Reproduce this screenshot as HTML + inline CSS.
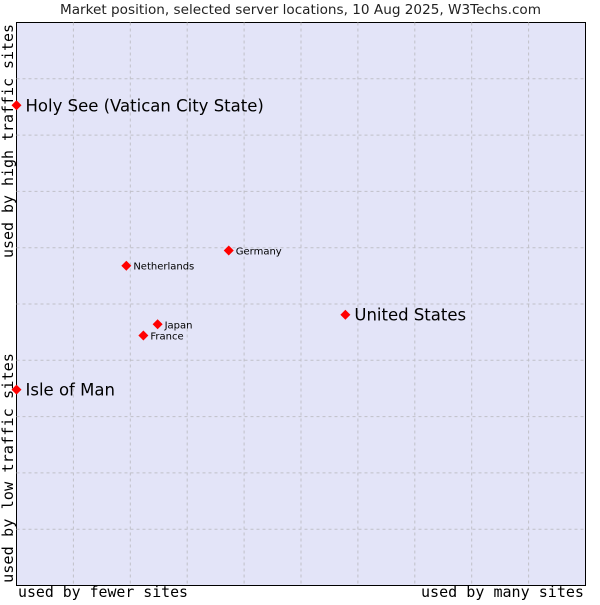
<!DOCTYPE html>
<html><head><meta charset="utf-8"><style>
body{margin:0;background:#fff}
svg text{font-family:"DejaVu Sans","Liberation Sans",sans-serif}
.mono{font-family:"DejaVu Sans Mono","Liberation Mono",monospace}
</style></head><body>
<svg id="chart" width="600" height="600" xmlns="http://www.w3.org/2000/svg">
<text x="60" y="14" textLength="481" lengthAdjust="spacingAndGlyphs" font-size="13" fill="#222">Market position, selected server locations, 10 Aug 2025, W3Techs.com</text>
<rect x="16.5" y="22.5" width="569" height="563" fill="#e3e4f8" stroke="#000"/>
<g id="grid"></g>
<g id="marks"></g>
<text class="mono" x="18" y="597" font-size="15" textLength="170" lengthAdjust="spacingAndGlyphs" fill="#000">used by fewer sites</text>
<text class="mono" x="421" y="597" font-size="15" textLength="163" lengthAdjust="spacingAndGlyphs" fill="#000">used by many sites</text>
<text class="mono" transform="translate(13,258) rotate(-90)" font-size="15" textLength="234" lengthAdjust="spacingAndGlyphs" fill="#000">used by high traffic sites</text>
<text class="mono" transform="translate(13,583) rotate(-90)" font-size="15" textLength="230" lengthAdjust="spacingAndGlyphs" fill="#000">used by low traffic sites</text>
</svg>
<script>
const names=["Holy See (Vatican City State)","Isle of Man","United States","Germany","Netherlands","Japan","France"];
const xVals=[0,0,5.78,3.73,1.93,2.48,2.23];
const yVals=[8.53,3.48,4.81,5.95,5.68,4.64,4.44];
const big=[true,true,true,false,false,false,false];
const NS="http://www.w3.org/2000/svg";
const X0=16.5,W=569,Y0=22.5,H=563;
const sx=v=>X0+v/10*W, sy=v=>Y0+H-v/10*H;
const grid=document.getElementById('grid'),marks=document.getElementById('marks');
for(let i=1;i<10;i++){
  const v=document.createElementNS(NS,'line');
  
  
  v.setAttribute('x1',sx(i));v.setAttribute('x2',sx(i));v.setAttribute('y1',Y0);v.setAttribute('y2',Y0+H);
  v.setAttribute('stroke','#c0c0c8');v.setAttribute('stroke-dasharray','3,3');grid.appendChild(v);
  const h=document.createElementNS(NS,'line');
  
  
  h.setAttribute('y1',sy(i));h.setAttribute('y2',sy(i));h.setAttribute('x1',X0);h.setAttribute('x2',X0+W);
  h.setAttribute('stroke','#c0c0c8');h.setAttribute('stroke-dasharray','3,3');grid.appendChild(h);
}
names.forEach((n,i)=>{
  const x=sx(xVals[i]),y=sy(yVals[i]);
  const p=document.createElementNS(NS,'polygon');
  
  
  p.setAttribute('points',`${x},${y-5} ${x+5},${y} ${x},${y+5} ${x-5},${y}`);
  p.setAttribute('fill','#f00');marks.appendChild(p);
  const t=document.createElementNS(NS,'text');
  
  
  t.setAttribute('x',x+(big[i]?9:7));t.setAttribute('y',y+(big[i]?6:4));
  t.setAttribute('font-size',big[i]?16.5:10);t.setAttribute('fill','#000');
  t.textContent=n;marks.appendChild(t);
});
</script>
</body></html>
